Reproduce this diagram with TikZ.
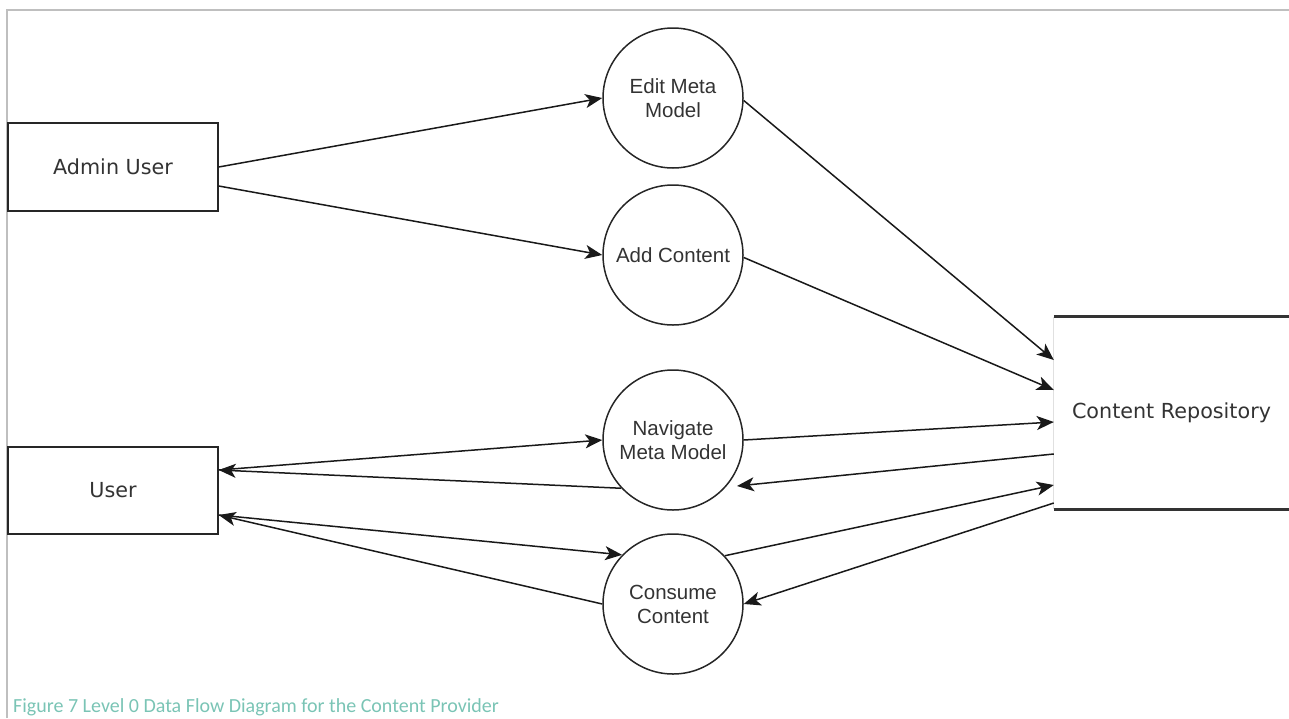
\documentclass[tikz,border=0pt]{standalone}
\usepackage{fontspec}
\setmainfont{DejaVu Sans}
\newfontfamily\arialf{Liberation Sans}
\newfontfamily\calib{Carlito}
\usetikzlibrary{arrows.meta,calc}
\definecolor{txt}{RGB}{51,51,51}
\definecolor{frame}{RGB}{191,191,191}
\definecolor{capt}{RGB}{122,196,181}
\tikzset{
  entity/.style={draw=black!85, line width=1.5pt, minimum width=210pt, minimum height=88pt, inner sep=0pt,
    font=\fontsize{20.7}{24}\selectfont, text=txt},
  proc/.style={draw=black!85, line width=1.5pt, circle, minimum size=140pt, inner sep=0pt, align=center,
    font=\arialf\fontsize{20.5}{24}\selectfont, text=txt},
  flow/.style={line width=1.5pt, draw=black!90, -{Stealth[length=17pt,width=14pt,inset=4.5pt]}},
}
\begin{document}
\begin{tikzpicture}[x=1pt,y=-1pt]
\useasboundingbox (0,0) rectangle (1289,718);
% frame
\draw[frame, line width=2pt] (7,718) -- (7,10) -- (1289,10);
% entities
\node[entity] (admin) at (113,167) {Admin User};
\node[entity, minimum height=87pt] (user) at (113,490.5) {User};
% processes
\node[proc] (edit) at (673,98) {Edit Meta\\Model};
\node[proc] (add) at (673,255) {Add Content};
\node[proc] (nav) at (673,440) {Navigate\\Meta Model};
\node[proc] (cons) at (673,604) {Consume\\Content};
% data store
\node[minimum width=235pt, minimum height=192pt, inner sep=0pt, font=\fontsize{20.7}{24}\selectfont, text=txt] (repo) at (1171.5,413) {Content Repository};
\draw[black!80, line width=3pt] (repo.north west) -- (repo.north east);
\draw[black!80, line width=3pt] (repo.south west) -- (repo.south east);
\draw[black!12, line width=1pt] (repo.north west) -- (repo.south west);
% flows
\draw[flow] (admin.east) -- (edit.180);
\draw[flow] ($(admin.east)+(0,19)$) -- (add.180);
\draw[flow] (edit.-2) -- ($(repo.west)+(0,-53)$);
\draw[flow] (add.-2) -- ($(repo.west)+(0,-23)$);
\draw[flow] (nav.0) -- ($(repo.west)+(0,9)$);
\draw[flow] ($(repo.west)+(0,41)$) -- ($(nav.center)+(64,46)$);
\draw[flow] (cons.43) -- ($(repo.west)+(0,72)$);
\draw[flow] ($(repo.west)+(0,90)$) -- (cons.0);
\draw[flow] ($(user.east)+(0,-20.5)$) -- (nav.180);
\draw[flow] (nav.223) -- ($(user.east)+(0,-20.5)$);
\draw[flow] ($(user.east)+(0,24.5)$) -- (cons.136);
\draw[flow] (cons.180) -- ($(user.east)+(0,24.5)$);
% caption
\node[anchor=base west, inner sep=0pt, text=capt, font=\calib\fontsize{20}{24}\selectfont] (cap) at (13,712) {Figure 7 Level 0 Data Flow Diagram for the Content Provider};
\end{tikzpicture}
\end{document}
